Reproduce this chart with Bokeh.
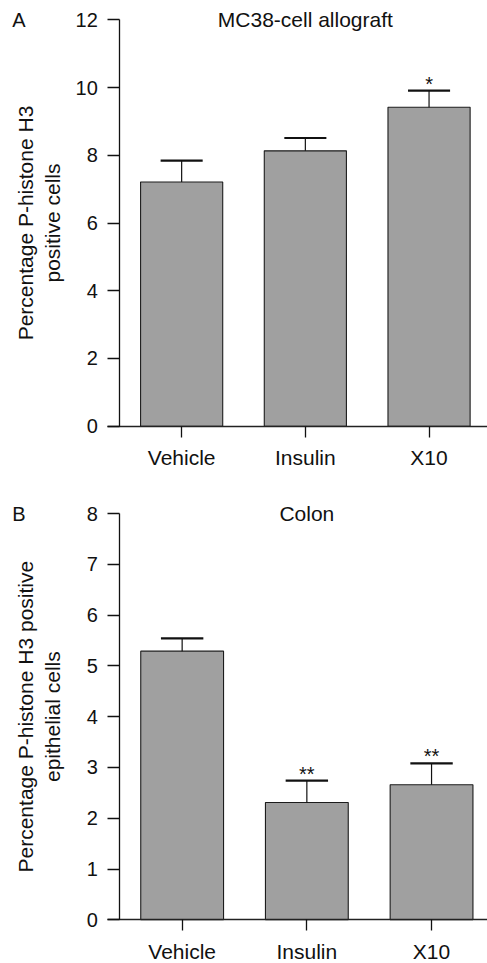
import math
from bokeh.plotting import figure
from bokeh.models import Range1d, FixedTicker, Label, LinearAxis
from bokeh.layouts import column
from bokeh.embed import file_html
from bokeh.resources import INLINE

categories = ["Vehicle", "Insulin", "X10"]

a_title = "MC38-cell allograft"
a_ylabel = ["Percentage P-histone H3", "positive cells"]
a_values = [7.21, 8.13, 9.42]
a_errors = [0.63, 0.38, 0.49]
a_marks = ["", "", "*"]
a_ticks = [0, 2, 4, 6, 8, 10, 12]

b_title = "Colon"
b_ylabel = ["Percentage P-histone H3 positive", "epithelial cells"]
b_values = [5.29, 2.31, 2.66]
b_errors = [0.25, 0.43, 0.42]
b_marks = ["", "**", "**"]
b_ticks = [0, 1, 2, 3, 4, 5, 6, 7, 8]

FONT = "Liberation Sans"
BAR_FILL = "#a0a0a0"
INK = "#111111"
W = 487


def make_panel(letter, title, ylabel, values, errors, marks, yticks,
               height, px_top, px_zero, px_axis, spacing):
    """px_top: canvas pixel of the top tick, px_zero: canvas pixel of 0,
    px_axis: canvas x pixel of the y axis, spacing: px per category."""
    xpos = [i + 0.5 for i in range(len(categories))]
    ymax = yticks[-1]
    per = ymax / (px_zero - px_top)          # data units per pixel (y)
    y_hi = ymax + px_top * per
    y_lo = -(height - px_zero) * per
    x_lo = -px_axis / spacing
    x_hi = (W - px_axis) / spacing

    def xdata(px):
        return (px - px_axis) / spacing

    p = figure(width=W, height=height,
               x_range=Range1d(x_lo, x_hi), y_range=Range1d(y_lo, y_hi),
               output_backend="svg", toolbar_location=None,
               x_axis_location=None, y_axis_location=None,
               min_border_left=0, min_border_right=0,
               min_border_top=0, min_border_bottom=0)
    p.outline_line_color = None
    p.background_fill_color = "white"
    p.border_fill_color = "white"
    for g in p.grid:
        g.visible = False

    yax = LinearAxis(fixed_location=0, bounds=(0, ymax),
                     ticker=FixedTicker(ticks=yticks, minor_ticks=[]))
    yax.major_tick_out = 12
    yax.major_tick_in = 0
    yax.minor_tick_out = 0
    yax.minor_tick_in = 0
    yax.major_label_standoff = 10
    yax.major_label_text_font = FONT
    yax.major_label_text_font_size = "20px"
    yax.major_label_text_color = INK
    yax.axis_line_color = INK
    yax.axis_line_width = 1.3
    yax.major_tick_line_color = INK
    yax.major_tick_line_width = 1.3
    p.add_layout(yax, "left")

    xax = LinearAxis(fixed_location=0, bounds=(xdata(px_axis - 12), x_hi),
                     ticker=FixedTicker(ticks=xpos, minor_ticks=[]))
    xax.major_label_overrides = {x: c for x, c in zip(xpos, categories)}
    xax.major_tick_out = 11
    xax.major_tick_in = 0
    xax.minor_tick_out = 0
    xax.minor_tick_in = 0
    xax.major_label_standoff = 9
    xax.major_label_text_font = FONT
    xax.major_label_text_font_size = "21px"
    xax.major_label_text_color = INK
    xax.axis_line_color = "#222222"
    xax.axis_line_width = 1.3
    xax.major_tick_line_color = INK
    xax.major_tick_line_width = 1.3
    p.add_layout(xax, "below")

    p.vbar(x=xpos, top=values, bottom=0, width=0.664,
           fill_color=BAR_FILL, line_color="#1c1c1c", line_width=1.1)

    tops = [v + e for v, e in zip(values, errors)]
    p.segment(x0=xpos, y0=values, x1=xpos, y1=tops, line_color=INK, line_width=1.2)
    cap = 0.17
    p.segment(x0=[x - cap for x in xpos], y0=tops, x1=[x + cap for x in xpos], y1=tops,
              line_color=INK, line_width=2.2)

    for x, t, m in zip(xpos, tops, marks):
        if m:
            p.add_layout(Label(x=x, y=t + 7 * per, text=m, text_align="center",
                               text_baseline="alphabetic", text_font=FONT,
                               text_font_size="20px", text_color=INK))

    # y-axis title, two rotated lines centred on the axis
    for line, px in zip(ylabel, [25.0, 51.7]):
        p.add_layout(Label(x=xdata(px), y=ymax / 2, text=line, angle=math.pi / 2,
                           text_align="center", text_baseline="middle",
                           text_font=FONT, text_font_size="21px", text_color=INK))

    p.add_layout(Label(x=1.5, y=ymax, text=title, text_align="center",
                       text_baseline="middle", text_font=FONT,
                       text_font_size="21px", text_color=INK))
    p.add_layout(Label(x=xdata(11.7), y=ymax, text=letter,
                       text_align="left", text_baseline="middle", text_font=FONT,
                       text_font_size="20px", text_color=INK))
    return p


pa = make_panel("A", a_title, a_ylabel, a_values, a_errors, a_marks, a_ticks,
                height=480, px_top=19.3, px_zero=425.7, px_axis=119.3, spacing=123.7)
pb = make_panel("B", b_title, b_ylabel, b_values, b_errors, b_marks, b_ticks,
                height=483, px_top=33.0, px_zero=439.3, px_axis=119.3, spacing=124.7)

layout = column(pa, pb, spacing=0)
open("out.html", "w").write(file_html(layout, INLINE))
